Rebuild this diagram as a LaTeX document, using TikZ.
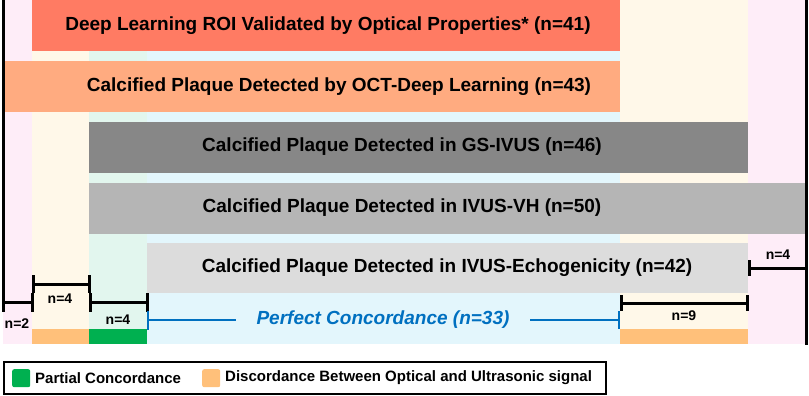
\documentclass[tikz,border=0pt]{standalone}
\usepackage{fontspec}
\setmainfont{Liberation Sans}
\definecolor{cRed}{HTML}{FF7B63}
\definecolor{cOrange}{HTML}{FFAB80}
\definecolor{cDark}{HTML}{878787}
\definecolor{cMid}{HTML}{B5B5B5}
\definecolor{cLight}{HTML}{DCDCDC}
\definecolor{bgPink}{HTML}{FEEDF8}
\definecolor{bgCream}{HTML}{FFF8E9}
\definecolor{bgMint}{HTML}{E2F6EE}
\definecolor{bgBlue}{HTML}{E3F6FC}
\definecolor{stripOr}{HTML}{FFC07A}
\definecolor{stripGr}{HTML}{00B050}
\definecolor{pcBlue}{HTML}{0070C0}
\begin{document}
\begin{tikzpicture}[x=1pt,y=-1pt,
  bar/.style={inner sep=0pt, outer sep=0pt, anchor=north west, minimum height=51pt},
  bartext/.style={font=\bfseries\fontsize{19}{22}\selectfont, inner sep=0pt},
  nlabel/.style={font=\bfseries\fontsize{14}{16}\selectfont, inner sep=0pt},
  legtext/.style={font=\bfseries\fontsize{15}{17}\selectfont, inner sep=0pt, anchor=west},
  brk/.style={line width=3pt, black},
  bbrk/.style={line width=2.6pt, pcBlue},
  strip/.style={inner sep=0pt, outer sep=0pt, anchor=north west, minimum height=15pt},
  sq/.style={inner sep=0pt, minimum width=18pt, minimum height=18pt, rounded corners=2pt, anchor=north west}]
\useasboundingbox (0,0) rectangle (809,396);
% background columns
\fill[bgPink] (3,0) rectangle (32,344);
\fill[bgCream] (32,0) rectangle (89,344);
\fill[bgMint] (89,0) rectangle (147,344);
\fill[bgBlue] (147,0) rectangle (620,344);
\fill[bgCream] (620,0) rectangle (748,344);
\fill[bgPink] (748,0) rectangle (806,344);
% bars
\node[bar, fill=cRed, minimum width=588pt] (b1) at (32,0) {};
\node[bar, fill=cOrange, minimum width=617pt] (b2) at (3,61) {};
\node[bar, fill=cDark, minimum width=659pt] (b3) at (89,122) {};
\node[bar, fill=cMid, minimum width=717pt] (b4) at (89,183) {};
\node[bar, fill=cLight, minimum width=601pt, minimum height=50pt] (b5) at (147,243) {};
\node[bartext] (t1) at (328,26) {Deep Learning ROI Validated by Optical Properties* (n=41)};
\node[bartext] (t2) at (339,87) {Calcified Plaque Detected by OCT-Deep Learning (n=43)};
\node[bartext] (t3) at (402,147) {Calcified Plaque Detected in GS-IVUS (n=46)};
\node[bartext] (t4) at (402,208) {Calcified Plaque Detected in IVUS-VH (n=50)};
\node[bartext] (t5) at (447,268) {Calcified Plaque Detected in IVUS-Echogenicity (n=42)};
% bottom strips
\node[strip, fill=stripOr, minimum width=57pt] (s1) at (32,329) {};
\node[strip, fill=stripGr, minimum width=58pt] (s2) at (89,329) {};
\node[strip, fill=stripOr, minimum width=128pt] (s3) at (620,329) {};
% frame lines
\coordinate (lt) at (3,0);
\coordinate (lb) at (3,312);
\coordinate (rt) at (806,0);
\coordinate (rb) at (806,345);
\draw[brk] (lt) -- (lb);
\draw[brk] (rt) -- (rb);
% n=2
\coordinate (a1) at (3,302); \coordinate (a2) at (32,302);
\coordinate (a2t) at (32,293); \coordinate (a2b) at (32,312);
\draw[brk] (a1) -- (a2); \draw[brk] (a2t) -- (a2b);
\node[nlabel] (n2) at (17,324) {n=2};
% n=4 first
\coordinate (c1) at (33,284); \coordinate (c2) at (89,284);
\coordinate (c1t) at (33,275); \coordinate (c1b) at (33,293);
\coordinate (c2t) at (89,275); \coordinate (c2b) at (89,293);
\draw[brk] (c1) -- (c2); \draw[brk] (c1t) -- (c1b); \draw[brk] (c2t) -- (c2b);
\node[nlabel] (n4a) at (60,299) {n=4};
% n=4 second
\coordinate (d1) at (90,302); \coordinate (d2) at (147,302);
\coordinate (d1t) at (90,293); \coordinate (d1b) at (90,312);
\coordinate (d2t) at (147,293); \coordinate (d2b) at (147,312);
\draw[brk] (d1) -- (d2); \draw[brk] (d1t) -- (d1b); \draw[brk] (d2t) -- (d2b);
\node[nlabel] (n4b) at (118,320) {n=4};
% perfect concordance
\node[font=\bfseries\itshape\fontsize{19}{22}\selectfont, text=pcBlue, inner sep=0pt] (pc) at (383,320) {Perfect Concordance (n=33)};
\coordinate (p1) at (148,320); \coordinate (p1e) at (236,320);
\coordinate (p2s) at (530,320); \coordinate (p2) at (619,320);
\coordinate (p1t) at (148,311); \coordinate (p1b) at (148,330);
\coordinate (p2t) at (619,311); \coordinate (p2b) at (619,329);
\draw[bbrk] (p1) -- (p1e); \draw[bbrk] (p2s) -- (p2);
\draw[bbrk] (p1t) -- (p1b); \draw[bbrk] (p2t) -- (p2b);
% n=9
\coordinate (e1) at (621,303); \coordinate (e2) at (747,303);
\coordinate (e1t) at (621,295); \coordinate (e1b) at (621,311);
\coordinate (e2t) at (747,295); \coordinate (e2b) at (747,311);
\draw[brk] (e1) -- (e2); \draw[brk] (e1t) -- (e1b); \draw[brk] (e2t) -- (e2b);
\node[nlabel] (n9) at (684,316) {n=9};
% n=4 right
\coordinate (f1) at (749,268); \coordinate (f2) at (806,268);
\coordinate (f1t) at (749,260); \coordinate (f1b) at (749,276);
\draw[brk] (f1) -- (f2); \draw[brk] (f1t) -- (f1b);
\node[nlabel] (n4c) at (778,255) {n=4};
% legend
\node[draw, line width=1.5pt, inner sep=0pt, anchor=north west, minimum width=602pt, minimum height=32pt] (leg) at (3,361) {};
\node[sq, fill=stripGr] (lg1) at (12,369) {};
\node[legtext] (lt1) at (35,378) {Partial Concordance};
\node[sq, fill=stripOr] (lg2) at (202,369) {};
\node[legtext] (lt2) at (225,378) {Discordance Between Optical and Ultrasonic signal};
\end{tikzpicture}
\end{document}
